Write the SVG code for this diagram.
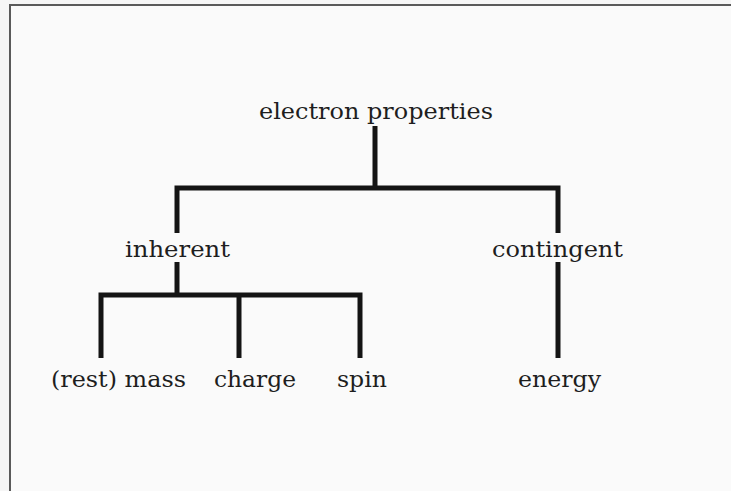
<svg xmlns="http://www.w3.org/2000/svg" width="731" height="491" viewBox="0 0 731 491">
<style>
.lbl{font-family:"DejaVu Serif","Liberation Serif",serif;font-size:23px;fill:#1e1e1e;}
.ln{fill:none;stroke:#141414;stroke-width:5;stroke-linejoin:miter;stroke-linecap:butt;}
</style>
<rect x="0" y="0" width="731" height="491" fill="#f6f6f6"/>
<rect x="10" y="5" width="740" height="500" fill="#fafafa" stroke="#5a5a5a" stroke-width="2"/>
<g id="connectors">
<path class="ln" d="M375,126 V188"/>
<path class="ln" d="M177,233 V188 H558 V233"/>
<path class="ln" d="M177,262 V295"/>
<path class="ln" d="M101,358 V295 H360 V358"/>
<path class="ln" d="M239,295 V358"/>
<path class="ln" d="M558,262 V358"/>
</g>
<g id="node-electron-properties"><text class="lbl" x="259" y="118.5" textLength="234" lengthAdjust="spacingAndGlyphs">electron properties</text></g>
<g id="node-inherent"><text class="lbl" x="125" y="256.5" textLength="105" lengthAdjust="spacingAndGlyphs">inherent</text></g>
<g id="node-contingent"><text class="lbl" x="492" y="256.5" textLength="131" lengthAdjust="spacingAndGlyphs">contingent</text></g>
<g id="node-rest-mass"><text class="lbl" x="51" y="386.5" textLength="135" lengthAdjust="spacingAndGlyphs">(rest) mass</text></g>
<g id="node-charge"><text class="lbl" x="214" y="386.5" textLength="82" lengthAdjust="spacingAndGlyphs">charge</text></g>
<g id="node-spin"><text class="lbl" x="337" y="386.5" textLength="50" lengthAdjust="spacingAndGlyphs">spin</text></g>
<g id="node-energy"><text class="lbl" x="518" y="386.5" textLength="83" lengthAdjust="spacingAndGlyphs">energy</text></g>
</svg>
